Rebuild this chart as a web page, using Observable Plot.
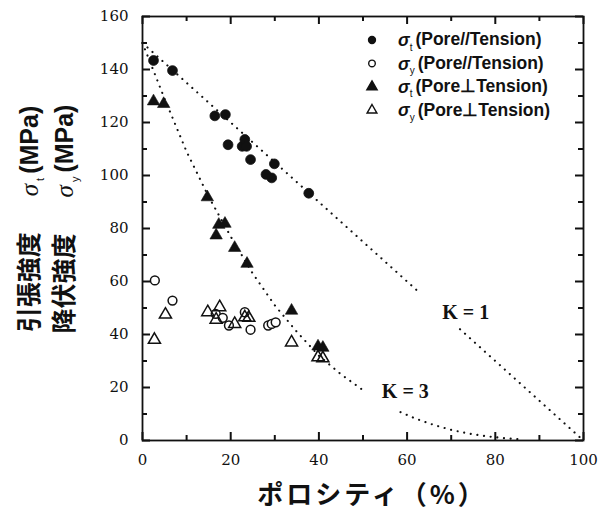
<!DOCTYPE html>
<html><head><meta charset="utf-8">
<script src="https://cdn.jsdelivr.net/npm/d3@7"></script>
<script src="https://cdn.jsdelivr.net/npm/@observablehq/plot@0.6"></script>
<style>body{margin:0;background:#fff}</style>
</head><body><div id="chart"></div>
<script>
// σt, Pore // Tension (filled circles)
const tParPorosity = [2.5, 6.8, 16.4, 18.8, 19.4, 22.6, 23.2, 23.6, 24.5, 28.0, 29.3, 29.9, 37.7];
const tParStrength = [143.4, 139.6, 122.5, 123.0, 111.6, 111.0, 113.6, 111.0, 106.0, 100.4, 99.1, 104.4, 93.3];
// σy, Pore // Tension (open circles)
const yParPorosity = [2.8, 6.8, 16.6, 18.2, 19.6, 23.2, 24.5, 28.5, 29.3, 30.2];
const yParStrength = [60.4, 52.8, 47.8, 46.3, 43.4, 48.4, 41.8, 43.4, 44.0, 44.6];
// σt, Pore ⊥ Tension (filled triangles)
const tPerpPorosity = [2.5, 4.8, 14.7, 16.7, 17.3, 18.7, 20.9, 23.7, 33.8, 39.8, 40.9];
const tPerpStrength = [128.0, 127.0, 91.8, 77.4, 81.4, 81.8, 72.7, 66.7, 49.0, 35.5, 35.0];
// σy, Pore ⊥ Tension (open triangles)
const yPerpPorosity = [2.7, 5.2, 14.8, 16.7, 17.5, 20.9, 23.2, 24.1, 33.8, 39.8, 40.9];
const yPerpStrength = [38.0, 47.5, 48.4, 45.6, 50.3, 44.0, 46.5, 46.3, 37.0, 31.4, 31.0];
// model curves (NaN = gap for label)
const k1Porosity = [0, 10, 20, 30, 40, 50, 63, NaN, 72, 80, 90, 100];
const k1Strength = [150, 135, 120, 105, 90, 75, 55.5, NaN, 42, 30, 15, 0];
const k3Porosity = [0, 5, 10, 15, 20, 25, 30, 35, 40, 45, 50, NaN, 58.5, 62, 66, 70, 74, 78, 82, 86];
const k3Strength = [150, 129, 109, 92, 77, 63, 51, 41, 32, 25, 19, NaN, 10.7, 8.2, 5.9, 4.0, 2.6, 1.6, 0.9, 0.4];
const curveLabels = ["K = 1", "K = 3"];
const curveLabelPorosity = [73.3, 59.6];
const curveLabelStrength = [48.3, 18.6];
// ticks
const xMajorTicks = [0, 20, 40, 60, 80, 100];
const xMinorTicks = [10, 30, 50, 70, 90];
const yMajorTicks = [0, 20, 40, 60, 80, 100, 120, 140, 160];
const yMinorTicks = [10, 30, 50, 70, 90, 110, 130, 150];
const legendLabels = ["(Pore//Tension)", "(Pore//Tension)", "(Pore\u22a5Tension)", "(Pore\u22a5Tension)"];
const legendSubs = ["t", "y", "t", "y"];
const xTitle = "ポロシティ（%）";
const yTitle1 = ["引張強度", "σ", "t", "(MPa)"];
const yTitle2 = ["降伏強度", "σ", "y", "(MPa)"];

const pts = (xs, ys) => xs.map((x, i) => ({x, y: ys[i]}));
const tPar = pts(tParPorosity, tParStrength);
const yPar = pts(yParPorosity, yParStrength);
const tPerp = pts(tPerpPorosity, tPerpStrength);
const yPerp = pts(yPerpPorosity, yPerpStrength);
const k1 = pts(k1Porosity, k1Strength);
const k3 = pts(k3Porosity, k3Strength);
const labels = curveLabels.map((t, i) => ({t, x: curveLabelPorosity[i], y: curveLabelStrength[i]}));

const ink = "#111";
const dotted = {x: "x", y: "y", stroke: ink, strokeWidth: 2.1, strokeDasharray: "0.1,6.6", strokeLinecap: "round"};
const W = 611, H = 513, mL = 142, mR = 28, mT = 16, mB = 73;
const fw = W - mL - mR, fh = H - mT - mB;
const tk = {stroke: ink, strokeWidth: 2};
const major = 8, minor = 5;

const chart = Plot.plot({
  width: W, height: H,
  marginLeft: mL, marginRight: mR, marginTop: mT, marginBottom: mB,
  x: {domain: [0, 100], label: null},
  y: {domain: [0, 160], label: null},
  style: {fontFamily: "'DejaVu Serif', serif", fontSize: "15px", background: "#fff", color: ink},
  marks: [
    Plot.axisX({ticks: xMajorTicks, tickFormat: d => d, tickSize: 0, tickPadding: 14, label: null, fontSize: 15}),
    Plot.axisY({ticks: yMajorTicks, tickFormat: d => d, tickSize: 0, tickPadding: 14, label: null, fontSize: 15}),
    // inward ticks on all four sides
    Plot.tickX(xMajorTicks, {x: d => d, insetTop: fh - major, ...tk}),
    Plot.tickX(xMajorTicks, {x: d => d, insetBottom: fh - major, ...tk}),
    Plot.tickX(xMinorTicks, {x: d => d, insetTop: fh - minor, ...tk}),
    Plot.tickX(xMinorTicks, {x: d => d, insetBottom: fh - minor, ...tk}),
    Plot.tickY(yMajorTicks, {y: d => d, insetRight: fw - major, ...tk}),
    Plot.tickY(yMajorTicks, {y: d => d, insetLeft: fw - major, ...tk}),
    Plot.tickY(yMinorTicks, {y: d => d, insetRight: fw - minor, ...tk}),
    Plot.tickY(yMinorTicks, {y: d => d, insetLeft: fw - minor, ...tk}),
    Plot.line(k1, dotted),
    Plot.line(k3, dotted),
    Plot.text(labels, {x: "x", y: "y", text: "t", fontFamily: "'Liberation Serif', serif", fontWeight: "bold", fontSize: 20, fill: ink}),
    Plot.dot(yPar, {x: "x", y: "y", symbol: "circle", r: 4.4, stroke: ink, strokeWidth: 1.5, fill: "white"}),
    Plot.dot(yPerp, {x: "x", y: "y", symbol: "triangle", r: 4.5, stroke: ink, strokeWidth: 1.5, fill: "white", fillOpacity: 0}),
    Plot.dot(tPar, {x: "x", y: "y", symbol: "circle", r: 4.9, fill: ink, stroke: ink, strokeWidth: 0.8}),
    Plot.dot(tPerp, {x: "x", y: "y", symbol: "triangle", r: 4.6, fill: ink, stroke: ink, strokeWidth: 0.6}),
    Plot.frame({stroke: ink, strokeWidth: 1.8})
  ]
});
document.getElementById("chart").appendChild(chart);

const svg = d3.select(chart);
// legend
const symbols = [
  {type: d3.symbolCircle, size: 38, fill: ink},
  {type: d3.symbolCircle, size: 34, fill: "white"},
  {type: d3.symbolTriangle, size: 46, fill: ink},
  {type: d3.symbolTriangle, size: 42, fill: "white"}
];
const lg = svg.append("g").attr("text-anchor", "start");
legendLabels.forEach((lab, i) => {
  const yy = 40 + i * 23.4;
  lg.append("path").attr("d", d3.symbol(symbols[i].type, symbols[i].size)())
    .attr("transform", `translate(372,${yy})`).attr("fill", symbols[i].fill)
    .attr("stroke", ink).attr("stroke-width", 1.4);
  const t = lg.append("text").attr("x", 398).attr("y", yy).attr("dy", "0.35em").attr("text-anchor", "start")
    .attr("font-family", "'Liberation Sans', Arial, sans-serif").attr("font-size", 17.5).attr("font-weight", "bold").attr("fill", ink);
  t.append("tspan").attr("font-style", "italic").text("σ");
  t.append("tspan").attr("font-size", 10).attr("font-weight", "normal").attr("dy", "0.45em").text(legendSubs[i]);
  t.append("tspan").attr("dy", "-0.3em").attr("dx", 3).text(lab);
});
// x title
svg.append("text").attr("x", 372).attr("y", 495).attr("dy", "0.35em").attr("text-anchor", "middle")
  .attr("font-family", "'Noto Sans CJK JP', sans-serif").attr("font-weight", "bold").attr("font-size", 26)
  .attr("letter-spacing", 3).attr("fill", ink)
  .text(xTitle);
// y titles
function yTitle(parts, cx) {
  const t = svg.append("text").attr("transform", `translate(${cx},219) rotate(-90)`).attr("text-anchor", "middle")
    .attr("dy", "0.36em").attr("fill", ink).attr("font-size", 25);
  t.append("tspan").attr("font-family", "'Noto Sans CJK JP', sans-serif").attr("font-weight", "bold").text(parts[0]);
  t.append("tspan").attr("dx", 36).attr("font-family", "'Liberation Serif', serif").attr("font-style", "italic").text(parts[1]);
  t.append("tspan").attr("font-family", "'Liberation Sans', sans-serif").attr("font-size", 11).attr("dy", 6).attr("dx", 3).text(parts[2]);
  t.append("tspan").attr("font-family", "'Liberation Sans', sans-serif").attr("font-weight", "bold").attr("dy", -6).attr("dx", 4).text(parts[3]);
}
yTitle(yTitle1, 29);
yTitle(yTitle2, 64);
</script></body></html>
